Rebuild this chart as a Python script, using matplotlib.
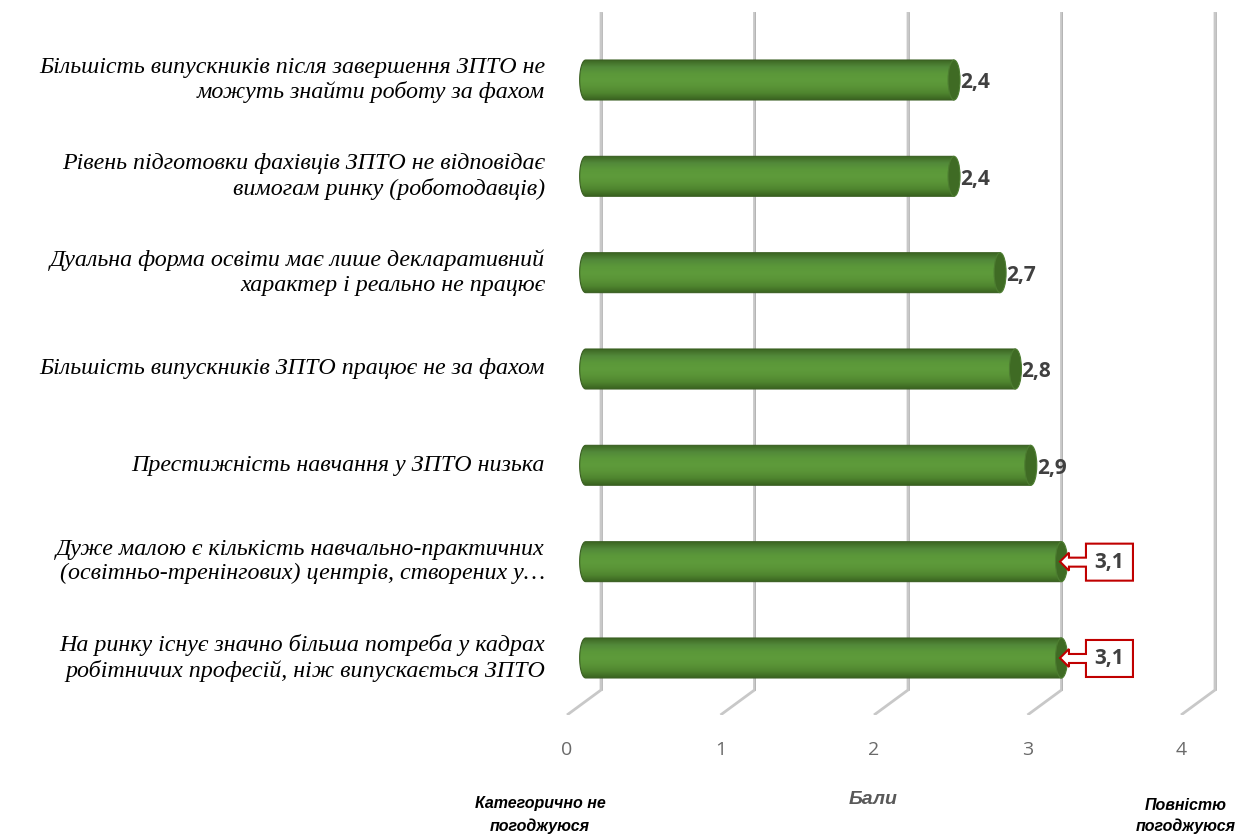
import numpy as np
import matplotlib
matplotlib.use("Agg")
import matplotlib.pyplot as plt
import matplotlib.transforms as mtransforms
from matplotlib.patches import Ellipse, Polygon
from matplotlib.colors import LinearSegmentedColormap

categories = [
    "Більшість випускників після завершення ЗПТО не\nможуть знайти роботу за фахом",
    "Рівень підготовки фахівців ЗПТО не відповідає\nвимогам ринку (роботодавців)",
    "Дуальна форма освіти має лише декларативний\nхарактер і реально не працює",
    "Більшість випускників ЗПТО працює не за фахом",
    "Престижність навчання у ЗПТО низька",
    "Дуже малою є кількість навчально-практичних\n(освітньо-тренінгових) центрів, створених у…",
    "На ринку існує значно більша потреба у кадрах\nробітничих професій, ніж випускається ЗПТО",
]
values = [2.4, 2.4, 2.7, 2.8, 2.9, 3.1, 3.1]
value_labels = ["2,4", "2,4", "2,7", "2,8", "2,9", "3,1", "3,1"]
highlight = [False, False, False, False, False, True, True]
ticks = [0, 1, 2, 3, 4]

W, H = 1237, 834
fig = plt.figure(figsize=(W / 100, H / 100), dpi=100)
SANS = ["Open Sans", "DejaVu Sans"]
SANS_BI = ["Liberation Sans", "DejaVu Sans"]

# axes placed so that value 0 (back wall) sits at x=601px, 1 unit = 153.5px
px_per_x = 153.5
px_per_y = 96.33
x0_px = 601
ax_left_px, ax_right_px = 560, 1230
ax_top_px, ax_bot_px = 12, 715
ax = fig.add_axes([ax_left_px / W, 1 - ax_bot_px / H,
                   (ax_right_px - ax_left_px) / W, (ax_bot_px - ax_top_px) / H])
xlim = ((ax_left_px - x0_px) / px_per_x, (ax_right_px - x0_px) / px_per_x)
ylim = ((ax_bot_px - 80) / px_per_y, (ax_top_px - 80) / px_per_y)
ax.axis("off")

# depth offset of the 3D floor
ddx = -34 / px_per_x
ddy = 25 / px_per_y
y_wall_bot = (690 - 80) / px_per_y

for t in ticks:
    ax.plot([t, t, t + ddx], [ylim[1], y_wall_bot, y_wall_bot + ddy],
            color="#c8c8c8", lw=2.0, zorder=1, solid_capstyle="butt")
    ax.plot([t + 0.005, t + 0.005], [ylim[1], y_wall_bot],
            color="#ababab", lw=0.5, zorder=1)
    ax.text(t + ddx, (750 - 80) / px_per_y, str(t), ha="center", va="center",
            fontsize=14, color="#6a6a6a", family=SANS, clip_on=False)

# cylinders
green = LinearSegmentedColormap.from_list(
    "cyl", ["#3d6823", "#52893a", "#5b9839", "#5e9b3b", "#5a9437", "#4f852f", "#3a6320"])
grad = np.linspace(0, 1, 64).reshape(-1, 1)
bar_h = 0.415
shift = -0.1
cap_w = 12 / px_per_x
y_pos = np.arange(len(values))
bars = ax.barh(y_pos, values, left=shift, height=bar_h, color="none",
               edgecolor="none", zorder=2)
th = np.linspace(np.pi / 2, 3 * np.pi / 2, 30)
for i, (b, v) in enumerate(zip(bars, values)):
    # body outline: rounded left end, straight right end
    outline = [(shift + cap_w / 2 * np.cos(a), i - bar_h / 2 * np.sin(a)) for a in th]
    outline += [(shift + v, i + bar_h / 2), (shift + v, i - bar_h / 2)]
    body = Polygon(outline, closed=True, facecolor="none", edgecolor="#3a5f22",
                   lw=0.8, zorder=3)
    ax.add_patch(body)
    ax.imshow(grad, extent=[shift - cap_w, shift + v, i + bar_h / 2, i - bar_h / 2],
              cmap=green, aspect="auto", zorder=2, clip_path=body,
              interpolation="bicubic")
    ax.add_patch(Ellipse((shift + v, i), cap_w, bar_h, facecolor="#3f6b24",
                         edgecolor="#4d7d31", lw=0.8, zorder=3))

    end_x = shift + v + cap_w / 2
    if highlight[i]:
        # left-arrow callout in pixel offsets from the bar end
        verts = np.array([(0, 0), (9, 9), (9, 4), (26, 4), (26, 18), (73, 18),
                          (73, -19), (26, -19), (26, -5), (9, -5), (9, -9)]) / 100.0
        tr = fig.dpi_scale_trans + mtransforms.ScaledTranslation(
            shift + v - 0.01, i, ax.transData)
        ax.add_patch(Polygon(verts, closed=True, facecolor="white", edgecolor="#c00000",
                             lw=1.5, transform=tr, zorder=4, clip_on=False))
        ax.text(0.495, -0.01, value_labels[i], transform=tr, ha="center", va="center",
                fontsize=15, fontweight="bold", color="#404040",
                family=SANS, zorder=5, clip_on=False)
    else:
        ax.annotate(value_labels[i], (end_x, i), xytext=(0, -2), textcoords="offset points",
                    ha="left", va="center", fontsize=15, fontweight="bold",
                    color="#404040", family=SANS, zorder=5)

    ax.text((545 - x0_px) / px_per_x, i, categories[i], ha="right", va="center",
            fontsize=17.3, style="italic", family=["Liberation Serif", "DejaVu Serif"],
            linespacing=1.2, clip_on=False)

ax.set_xlim(*xlim)
ax.set_ylim(*ylim)

fig.text(540 / W, 1 - 815 / H, "Категорично не\nпогоджуюся", ha="center", va="center",
         fontsize=11.5, fontweight="bold", style="italic", linespacing=1.6, family=SANS_BI)
fig.text(873 / W, 1 - 800 / H, "Бали", ha="center", va="center", fontsize=14,
         fontweight="bold", style="italic", color="#595959", family=SANS_BI)
fig.text(1186 / W, 1 - 816 / H, "Повністю\nпогоджуюся", ha="center", va="center",
         fontsize=11.5, fontweight="bold", style="italic", linespacing=1.4, family=SANS_BI)

fig.savefig("out.png", dpi=100, facecolor="white")
